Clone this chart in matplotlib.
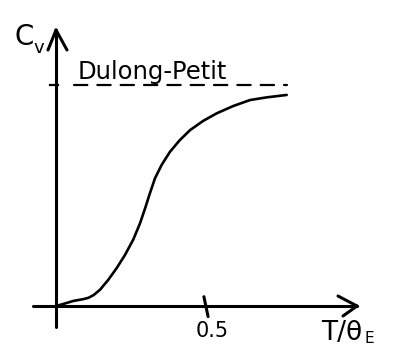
import matplotlib
matplotlib.use("Agg")
import matplotlib.pyplot as plt

# Heat capacity versus reduced temperature (Einstein-type sketch)
t_reduced = [0.0, 0.024, 0.058, 0.091, 0.108, 0.125, 0.147, 0.174, 0.202, 0.23,
             0.258, 0.28, 0.297, 0.313, 0.33, 0.352, 0.38, 0.413, 0.447, 0.491,
             0.536, 0.591, 0.647, 0.702, 0.769]
cv = [0.0, 0.009, 0.023, 0.031, 0.037, 0.049, 0.074, 0.118, 0.171, 0.231,
      0.302, 0.374, 0.442, 0.51, 0.578, 0.638, 0.698, 0.751, 0.796, 0.838,
      0.872, 0.905, 0.932, 0.944, 0.955]
dulong_petit = 1.0
x_tick_value = 0.5
x_tick_label = "0.5"
limit_label = "Dulong-Petit"

W, H = 398, 348
X0, Y0 = 56, 306          # pixel position of the origin
SX, SY = 300.0, 221.0     # pixels per data unit


def px(x, y):
    """Pixel position -> data coordinates."""
    return (x - X0) / SX, (Y0 - y) / SY


fig = plt.figure(figsize=(W / 100, H / 100), dpi=100)
ax = fig.add_axes([0, 0, 1, 1])
ax.set_xlim(-X0 / SX, (W - X0) / SX)
ax.set_ylim((Y0 - H) / SY, Y0 / SY)
ax.axis("off")

k = "black"
axis_kw = dict(color=k, lw=2.2, solid_capstyle="round", solid_joinstyle="round")

# vertical axis with open arrow head
xa, ya = px(56, 327)
xb, yb = px(56, 30)
ax.plot([xa, xb], [ya, yb], **axis_kw)
for ex, ey in [(48, 50), (67, 50)]:
    cx, cy = px(ex, ey)
    ax.plot([xb, cx], [yb, cy], **axis_kw)

# horizontal axis with open arrow head
xa, ya = px(33, 306)
xb, yb = px(357, 306)
ax.plot([xa, xb], [ya, yb], **axis_kw)
for ex, ey in [(338, 296), (343, 316)]:
    cx, cy = px(ex, ey)
    ax.plot([xb, cx], [yb, cy], **axis_kw)

# tick at T/theta_E = 0.5
ax.plot([x_tick_value - 0.007, x_tick_value + 0.007], [0.042, -0.048], **axis_kw)
ax.text(x_tick_value + 0.02, px(0, 331)[1], x_tick_label, fontsize=15,
        ha="center", va="center", color=k)

# Dulong-Petit limit
ax.plot([-0.02, 0.008], [dulong_petit, dulong_petit], color=k, lw=1.6)
ax.plot([0.06, 0.77], [dulong_petit, dulong_petit], color=k, lw=1.6,
        dashes=(6, 4.5), dash_capstyle="round")
tx, ty = px(78, 79)
ax.text(tx, ty, limit_label, fontsize=17.5, ha="left", va="baseline", color=k)

# heat-capacity curve
ax.plot(t_reduced, cv, color=k, lw=1.9, solid_capstyle="round",
        solid_joinstyle="round")

# axis labels
tx, ty = px(14, 45)
ax.text(tx, ty, "C", fontsize=20, ha="left", va="baseline", color=k)
tx, ty = px(33, 53)
ax.text(tx, ty, "v", fontsize=13, ha="left", va="baseline", color=k)

tx, ty = px(321, 340)
ax.text(tx, ty, "T/θ", fontsize=19, ha="left", va="baseline", color=k)
tx, ty = px(365, 343)
ax.text(tx, ty, "E", fontsize=11, ha="left", va="baseline", color=k)

fig.savefig("out.png", dpi=100, facecolor="white")
